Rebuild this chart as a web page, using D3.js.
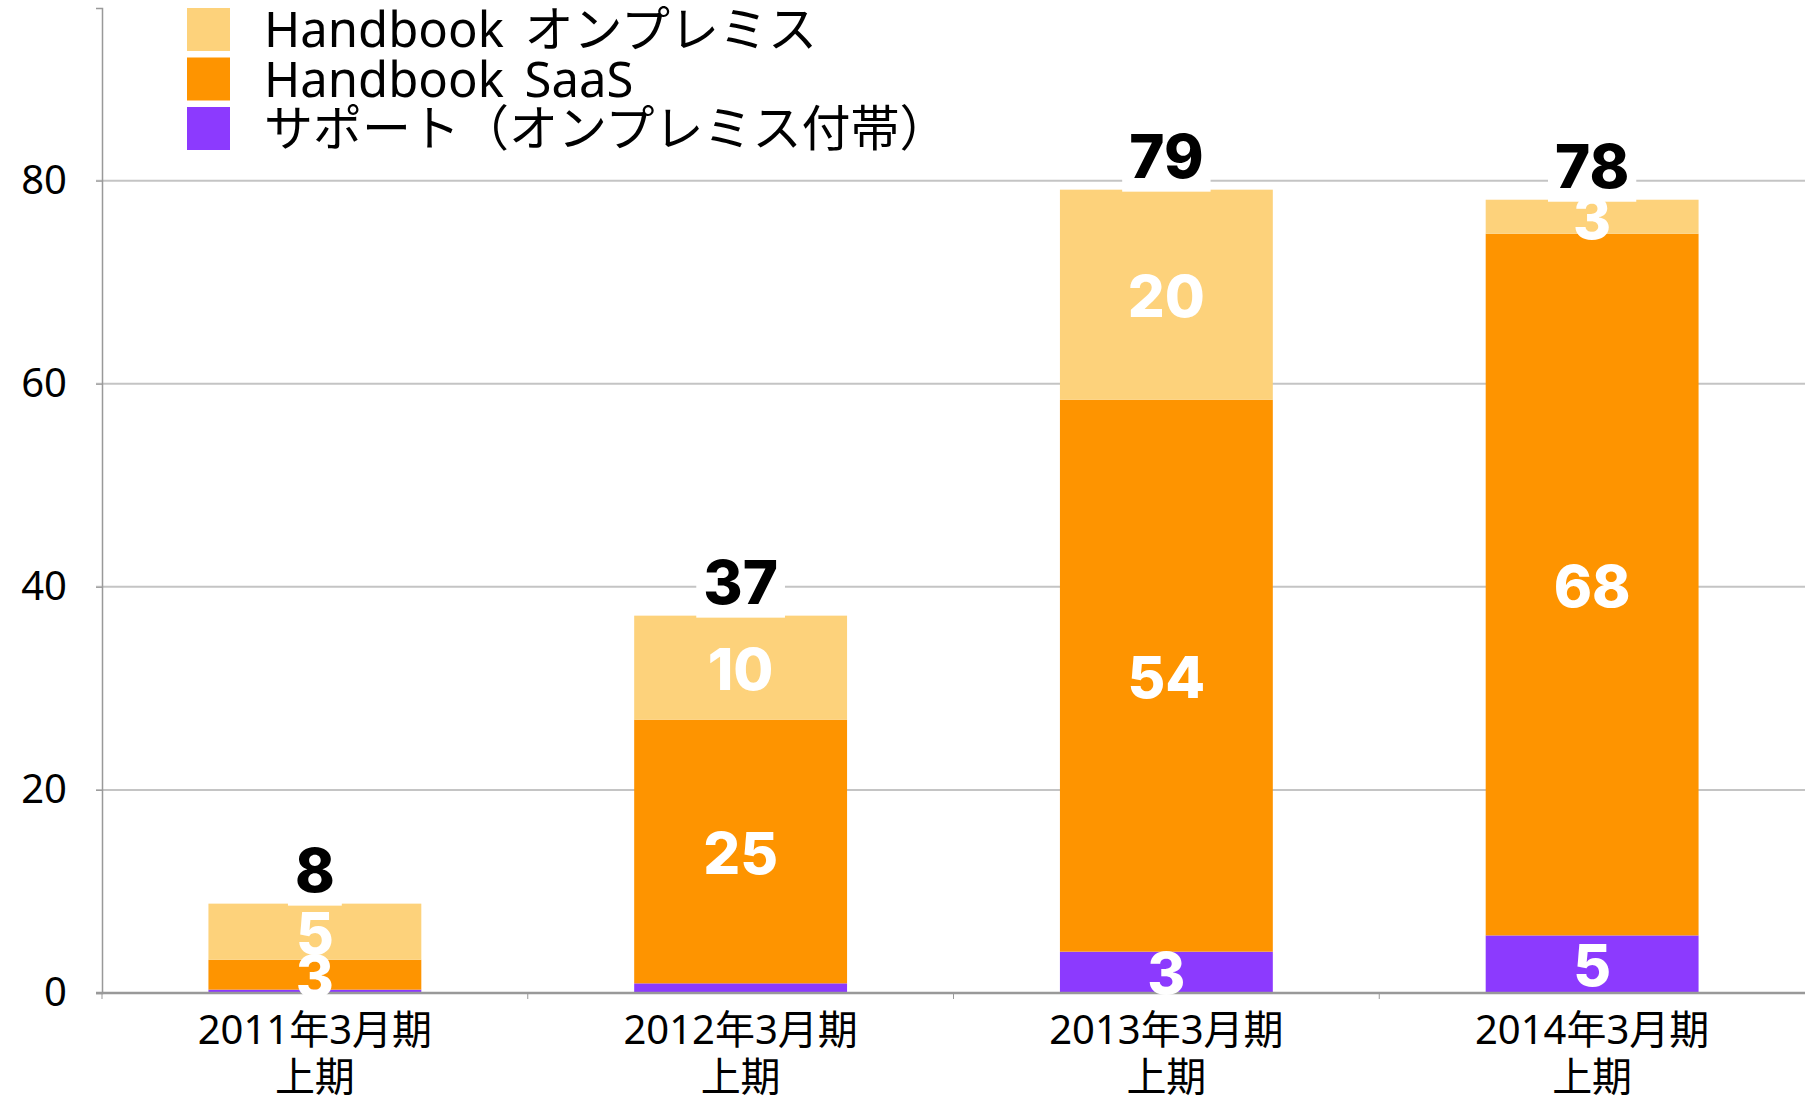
<!DOCTYPE html>
<html>
<head>
<meta charset="utf-8">
<script src="https://cdn.jsdelivr.net/npm/d3@7"></script>
<style>
  body { margin: 0; background: #fff; }
</style>
</head>
<body>
<svg id="chart" width="1805" height="1098"></svg>
<script>
(function () {
  const categories = [
    ["2011年3月期", "上期"],
    ["2012年3月期", "上期"],
    ["2013年3月期", "上期"],
    ["2014年3月期", "上期"],
  ];
  const seriesNames = ["Handbook オンプレミス", "Handbook SaaS", "サポート（オンプレミス付帯）"];

  // bar heights
  const support = [0.33, 0.95, 4.07, 5.67];
  const saas = [2.95, 25.97, 54.36, 69.1];
  const onPremise = [5.52, 10.24, 20.68, 3.35];

  // numbers printed on the bars
  const supportLabels = [null, null, 3, 5];
  const saasLabels = [3, 25, 54, 68];
  const onPremiseLabels = [5, 10, 20, 3];
  const totalLabels = [8, 37, 79, 78];

  const yTicks = [0, 20, 40, 60, 80];
  const yMax = 97;

  const colors = ["#fdd27b", "#fe9400", "#8c3afe"];
  const jpFont = "'Noto Sans', 'Noto Sans CJK JP', sans-serif";
  const numFont = "Inter, 'Open Sans', sans-serif";

  const svg = d3.select("#chart");
  const left = 102;
  const right = 1805;
  const top = 8;
  const bottom = 993;

  const x = d3
    .scaleBand()
    .domain(d3.range(categories.length))
    .range([left, right])
    .paddingInner(0.5)
    .paddingOuter(0.25);

  const y = d3.scaleLinear().domain([0, yMax]).range([bottom, top]);

  // gridlines
  svg
    .append("g")
    .selectAll(null)
    .data(yTicks.filter((d) => d > 0))
    .enter()
    .append("line")
    .attr("x1", left - 6)
    .attr("x2", right)
    .attr("y1", (d) => y(d))
    .attr("y2", (d) => y(d))
    .attr("stroke", "#c4c4c4")
    .attr("stroke-width", 2);

  // y axis
  const yAxis = svg
    .append("g")
    .attr("transform", `translate(${left},0)`)
    .call(d3.axisLeft(y).tickValues(yTicks).tickSize(6).tickPadding(29));
  yAxis.select(".domain").attr("stroke", "#999").attr("stroke-width", 1.5);
  yAxis.selectAll(".tick line").attr("stroke", "#999");
  yAxis
    .selectAll(".tick text")
    .style("font-family", jpFont)
    .style("font-size", "40px")
    .attr("fill", "#000");

  // stacked bars
  const rows = categories.map((c, i) => ({
    i: i,
    support: support[i],
    saas: saas[i],
    onPremise: onPremise[i],
  }));
  const keys = ["support", "saas", "onPremise"];
  const keyColor = { onPremise: colors[0], saas: colors[1], support: colors[2] };
  const keyLabels = { onPremise: onPremiseLabels, saas: saasLabels, support: supportLabels };
  const stacked = d3.stack().keys(keys)(rows);

  const layer = svg
    .append("g")
    .selectAll(null)
    .data(stacked)
    .enter()
    .append("g")
    .attr("fill", (s) => keyColor[s.key]);

  layer
    .selectAll(null)
    .data((s) => s)
    .enter()
    .append("rect")
    .attr("x", (d) => x(d.data.i))
    .attr("width", x.bandwidth())
    .attr("y", (d) => y(d[1]))
    .attr("height", (d) => y(d[0]) - y(d[1]));

  // x axis
  const xAxis = svg
    .append("g")
    .attr("transform", `translate(0,${bottom})`);
  xAxis
    .append("line")
    .attr("x1", left - 6)
    .attr("x2", right)
    .attr("stroke", "#999")
    .attr("stroke-width", 2.5);
  xAxis
    .selectAll(null)
    .data(d3.range(categories.length))
    .enter()
    .append("line")
    .attr("x1", (i) => x(i) - (x.step() * x.paddingInner()) / 2)
    .attr("x2", (i) => x(i) - (x.step() * x.paddingInner()) / 2)
    .attr("y1", 0)
    .attr("y2", 6)
    .attr("stroke", "#999");

  const xLabels = xAxis
    .selectAll(null)
    .data(categories)
    .enter()
    .append("text")
    .attr("text-anchor", "middle")
    .style("font-family", jpFont)
    .style("font-size", "40px")
    .attr("fill", "#000");
  xLabels
    .selectAll(null)
    .data((d, i) => d.map((t) => ({ t: t, i: i })))
    .enter()
    .append("tspan")
    .attr("x", (d) => x(d.i) + x.bandwidth() / 2)
    .attr("y", (d, j) => 51 + j * 47)
    .text((d) => d.t);

  // segment labels
  svg
    .append("g")
    .selectAll(null)
    .data(stacked)
    .enter()
    .append("g")
    .selectAll(null)
    .data((s) => s.map((d) => ({ d: d, label: keyLabels[s.key][d.data.i] })))
    .enter()
    .filter((o) => o.label !== null)
    .append("text")
    .attr("x", (o) => x(o.d.data.i) + x.bandwidth() / 2)
    .attr("y", (o) => (y(o.d[0]) + y(o.d[1])) / 2)
    .attr("dy", "0.38em")
    .attr("text-anchor", "middle")
    .style("font-family", numFont)
    .style("font-weight", 800)
    .style("font-size", "58px")
    .attr("fill", "#fff")
    .text((o) => o.label);

  // totals with a white box behind
  const totals = svg
    .append("g")
    .selectAll(null)
    .data(totalLabels)
    .enter()
    .append("g")
    .attr("transform", (d, i) => {
      const sum = support[i] + saas[i] + onPremise[i];
      return `translate(${x(i) + x.bandwidth() / 2},${y(sum) - 12})`;
    });
  totals
    .append("text")
    .attr("text-anchor", "middle")
    .style("font-family", numFont)
    .style("font-weight", 800)
    .style("font-size", "60px")
    .attr("fill", "#000")
    .text((d) => d);
  totals.each(function () {
    const g = d3.select(this);
    const bb = g.select("text").node().getBBox();
    g.insert("rect", "text")
      .attr("x", bb.x - 7)
      .attr("y", bb.y)
      .attr("width", bb.width + 14)
      .attr("height", bb.height)
      .attr("fill", "#fff");
  });

  // legend
  const legend = svg.append("g").attr("transform", "translate(187,8)");
  const item = legend
    .selectAll(null)
    .data(seriesNames)
    .enter()
    .append("g")
    .attr("transform", (d, i) => `translate(0,${i * 49.5})`);
  item
    .append("rect")
    .attr("width", 43)
    .attr("height", 43)
    .attr("fill", (d, i) => colors[i]);
  item
    .append("text")
    .attr("x", 77)
    .attr("y", 21.5)
    .attr("dy", "0.36em")
    .style("font-family", jpFont)
    .style("font-size", "49px")
    .style("word-spacing", "8px")
    .attr("fill", "#000")
    .text((d) => d);
})();
</script>
</body>
</html>
